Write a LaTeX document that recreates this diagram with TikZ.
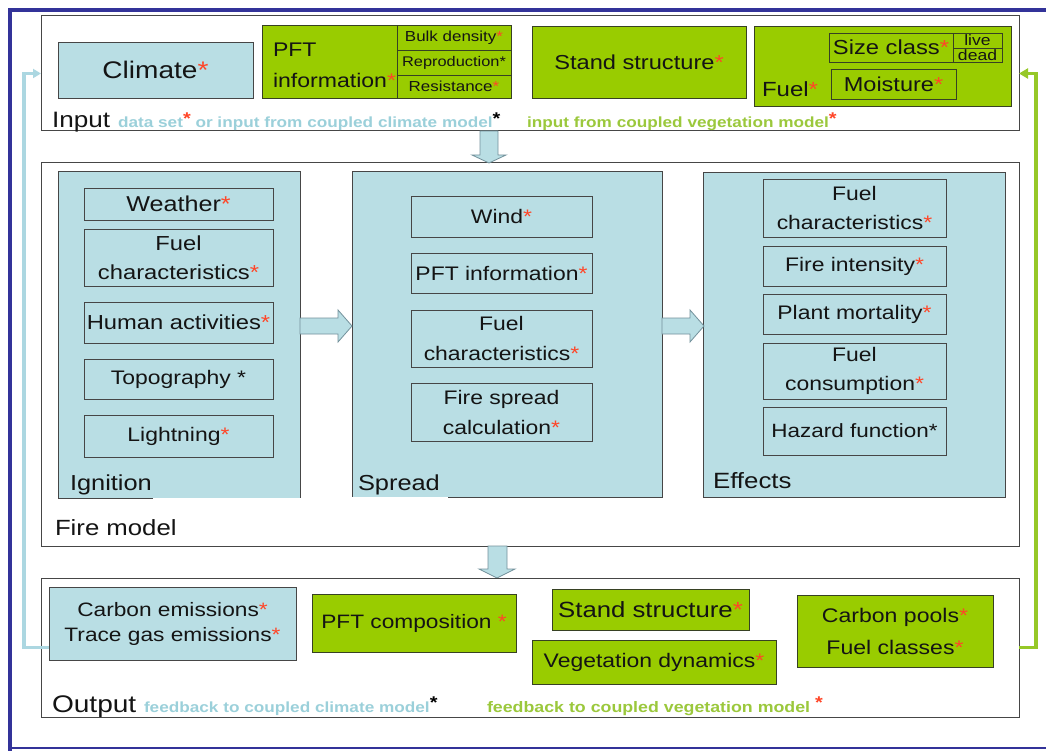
\documentclass[tikz,border=0pt]{standalone}
\usepackage{fontspec}
\setmainfont{Liberation Sans}[FakeStretch=1.17]
\usetikzlibrary{arrows.meta}

\definecolor{paleblue}{RGB}{185,222,228}
\definecolor{leaf}{RGB}{153,204,0}
\definecolor{framecol}{RGB}{51,51,153}
\definecolor{edge}{RGB}{70,70,70}
\definecolor{leafedge}{RGB}{55,65,35}
\definecolor{star}{RGB}{255,70,40}
\definecolor{climtext}{RGB}{155,208,218}
\definecolor{vegtext}{RGB}{155,200,60}
\definecolor{climline}{RGB}{172,215,225}
\definecolor{vegline}{RGB}{150,200,40}
\definecolor{arrowedge}{RGB}{115,145,155}
\definecolor{ink}{RGB}{20,20,20}

\newcommand\rs{\textcolor{star}{*}}
\newcommand\fsz[2]{\fontsize{#1}{#2}\selectfont}
\newcommand\supstar[1]{\raisebox{3.5pt}{\fsz{17}{17}\textcolor{#1}{*}}}
% \boxnode{style}{name}{left}{top}{right}{bottom}{text}
\newcommand\boxnode[7]{\node[#1, anchor=north west, minimum width={#5-#3},
  minimum height={#6-#4}] (#2) at (#3,#4) {#7};}

\tikzset{
  x=1pt, y=-1pt,
  every node/.style={text=ink},
  area/.style={inner sep=0pt, outer sep=0pt, draw=edge, line width=1pt, fill=white},
  panel/.style={inner sep=0pt, outer sep=0pt, fill=paleblue},
  cell/.style={inner sep=0pt, outer sep=0pt, draw=edge, line width=0.9pt,
               fill=paleblue, align=center, font=\fsz{19.6}{29}},
  leafcell/.style={inner sep=0pt, outer sep=0pt, draw=leafedge, line width=0.9pt,
               fill=leaf, align=center, font=\fsz{19.6}{29}},
  tag/.style={inner sep=0pt, outer sep=0pt, anchor=base west},
  edgeline/.style={draw=edge, line width=1pt},
  blockarrow/.style={fill=paleblue, draw=arrowedge, line width=0.8pt, line join=miter},
  climflow/.style={draw=climline, line width=3.5pt, -{Triangle[length=8pt,width=9pt]}},
  vegflow/.style={draw=vegline, line width=3.5pt, -{Triangle[length=9pt,width=10pt]}},
}

\begin{document}
\begin{tikzpicture}
\useasboundingbox (0,0) rectangle (1046,751);

% outer frame
\draw[framecol, line width=4pt] (10,751) -- (10,10) -- (1046,10);
\draw[framecol, line width=1.5pt] (8,748) -- (1046,748);

% ---------------- Input ----------------
\boxnode{area}{inbox}{41}{16}{1019}{131}{}
\boxnode{cell, font=\fsz{24}{29}}{climate}{58}{42}{253}{98}{Climate\rs}
\boxnode{leafcell}{pft}{262}{25}{397}{98}{}
\node[tag, font=\fsz{19.7}{24}] (pfta) at (273,57) {PFT};
\node[tag, font=\fsz{19.7}{24}] (pftb) at (273,88) {information\rs};
\boxnode{leafcell, font=\fsz{14.5}{17}}{bulk}{397}{25}{511}{50}{Bulk density\rs}
\boxnode{leafcell, font=\fsz{14}{17}}{repro}{397}{50}{511}{75}{Reproduction*}
\boxnode{leafcell, font=\fsz{14.5}{17}}{resist}{397}{75}{511}{98}{Resistance\rs}
\boxnode{leafcell, font=\fsz{20.2}{24}}{standin}{532}{26}{746}{98}{Stand structure\rs}
\boxnode{leafcell}{fuel}{754}{26}{1011}{106}{}
\node[tag, font=\fsz{20.5}{24}] (fuellbl) at (762,97) {Fuel\rs};
\boxnode{leafcell, font=\fsz{20.3}{24}}{sizecl}{829}{33}{953}{62}{Size class\rs}
\boxnode{leafcell, font=\fsz{15}{15}}{live}{953}{33}{1002}{48}{live}
\boxnode{leafcell, font=\fsz{15}{15}}{dead}{953}{48}{1002}{62}{dead}
\boxnode{leafcell, font=\fsz{20.1}{24}}{moist}{831}{69}{956}{99}{Moisture\rs}
\node[tag, font=\fsz{22.3}{26}] (inlbl) at (52,128) {Input};
\node[tag, font=\bfseries\fsz{14.7}{17}, text=climtext] (incl) at (118,128)
  {data set\supstar{star} or input from coupled climate model\supstar{black}};
\node[tag, font=\bfseries\fsz{14.7}{17}, text=vegtext] (inveg) at (527,128)
  {input from coupled vegetation model\supstar{star}};

% ---------------- Fire model ----------------
\boxnode{area}{fire}{41}{163}{1019}{546}{}
\node[tag, font=\fsz{22}{26}] (firelbl) at (55,535) {Fire model};

% Ignition
\boxnode{panel}{ign}{58}{172}{300}{498}{}
\draw[edgeline] (ign.south west) ++(95,0) -- (ign.south west) -- (ign.north west)
  -- (ign.north east) -- (ign.south east);
\boxnode{cell, font=\fsz{21.5}{26}}{weather}{84}{188}{273}{220}{Weather\rs}
\boxnode{cell, font=\fsz{20.3}{29}}{ifuel}{84}{229}{273}{286}{Fuel\\characteristics\rs}
\boxnode{cell, font=\fsz{20.3}{26}}{human}{84}{302}{273}{343}{Human activities\rs}
\boxnode{cell}{topo}{84}{359}{273}{399}{Topography *}
\boxnode{cell}{light}{84}{415}{273}{457}{Lightning\rs}
\node[tag, font=\fsz{21.7}{26}] (ignlbl) at (70,490) {Ignition};

% Spread
\boxnode{panel}{spr}{352}{172}{662}{497}{}
\draw[edgeline] (spr.south west) ++(96,0) -- (spr.south east) -- (spr.north east)
  -- (spr.north west) -- (spr.south west);
\boxnode{cell}{wind}{411}{196}{592}{237}{Wind\rs}
\boxnode{cell}{spft}{411}{253}{592}{293}{PFT information\rs}
\boxnode{cell, font=\fsz{19.6}{30}}{sfuel}{411}{310}{592}{367}{Fuel\\characteristics\rs}
\boxnode{cell, font=\fsz{19.6}{30}}{calc}{411}{383}{592}{441}{Fire spread\\calculation\rs}
\node[tag, font=\fsz{21.7}{26}] (sprlbl) at (358,490) {Spread};

% Effects
\boxnode{cell}{eff}{703}{172}{1005}{497}{}
\boxnode{cell}{efuel}{763}{179}{946}{237}{Fuel\\characteristics\rs}
\boxnode{cell}{inten}{763}{246}{946}{286}{Fire intensity\rs}
\boxnode{cell}{mort}{763}{294}{946}{334}{Plant mortality\rs}
\boxnode{cell}{consum}{763}{343}{946}{399}{Fuel\\consumption\rs}
\boxnode{cell, font=\fsz{19.2}{24}}{hazard}{763}{407}{946}{455}{Hazard function*}
\node[tag, font=\fsz{22.1}{26}] (efflbl) at (713,488) {Effects};

% block arrows between the stages
\draw[blockarrow] (480,131) -- (498,131) -- (498,155) -- (506,155) -- (489,163)
  -- (472,155) -- (480,155) -- cycle;
\draw[blockarrow] (300,318) -- (338,318) -- (338,310) -- (352,326) -- (338,342)
  -- (338,334) -- (300,334) -- cycle;
\draw[blockarrow] (662,318) -- (690,318) -- (690,310) -- (704,326) -- (690,342)
  -- (690,334) -- (662,334) -- cycle;
\draw[blockarrow] (488,546) -- (507,546) -- (507,569) -- (515,569) -- (497,578)
  -- (479,569) -- (488,569) -- cycle;

% ---------------- Output ----------------
\boxnode{area}{outbox}{41}{578}{1019}{717}{}
\boxnode{cell, font=\fsz{19.4}{25}}{cem}{49}{587}{296}{660}{Carbon emissions\rs\\Trace gas emissions\rs}
\boxnode{leafcell, font=\fsz{19.4}{24}}{pftcomp}{312}{594}{516}{652}{PFT composition \rs}
\boxnode{leafcell, font=\fsz{22}{26}}{standout}{552}{589}{749}{630}{Stand structure\rs}
\boxnode{leafcell, font=\fsz{19.6}{24}}{vegdyn}{532}{640}{776}{684}{Vegetation dynamics\rs}
\boxnode{leafcell, font=\fsz{19.7}{32}}{pools}{797}{595}{993}{667}{Carbon pools\rs\\Fuel classes\rs}
\node[tag, font=\fsz{24}{28}] (outlbl) at (52,712) {Output};
\node[tag, font=\bfseries\fsz{14.7}{17}, text=climtext] (outcl) at (144,712)
  {feedback to coupled climate model\supstar{black}};
\node[tag, font=\bfseries\fsz{15.2}{17}, text=vegtext] (outveg) at (487,712)
  {feedback to coupled vegetation model \supstar{star}};

% feedback loops to the input
\draw[climflow] (cem.west |- outbox.west) -- ++(-25,0) |- (inbox.west);
\draw[vegflow] (outbox.east) -- ++(17,0) |- (inbox.east);

\end{tikzpicture}
\end{document}
